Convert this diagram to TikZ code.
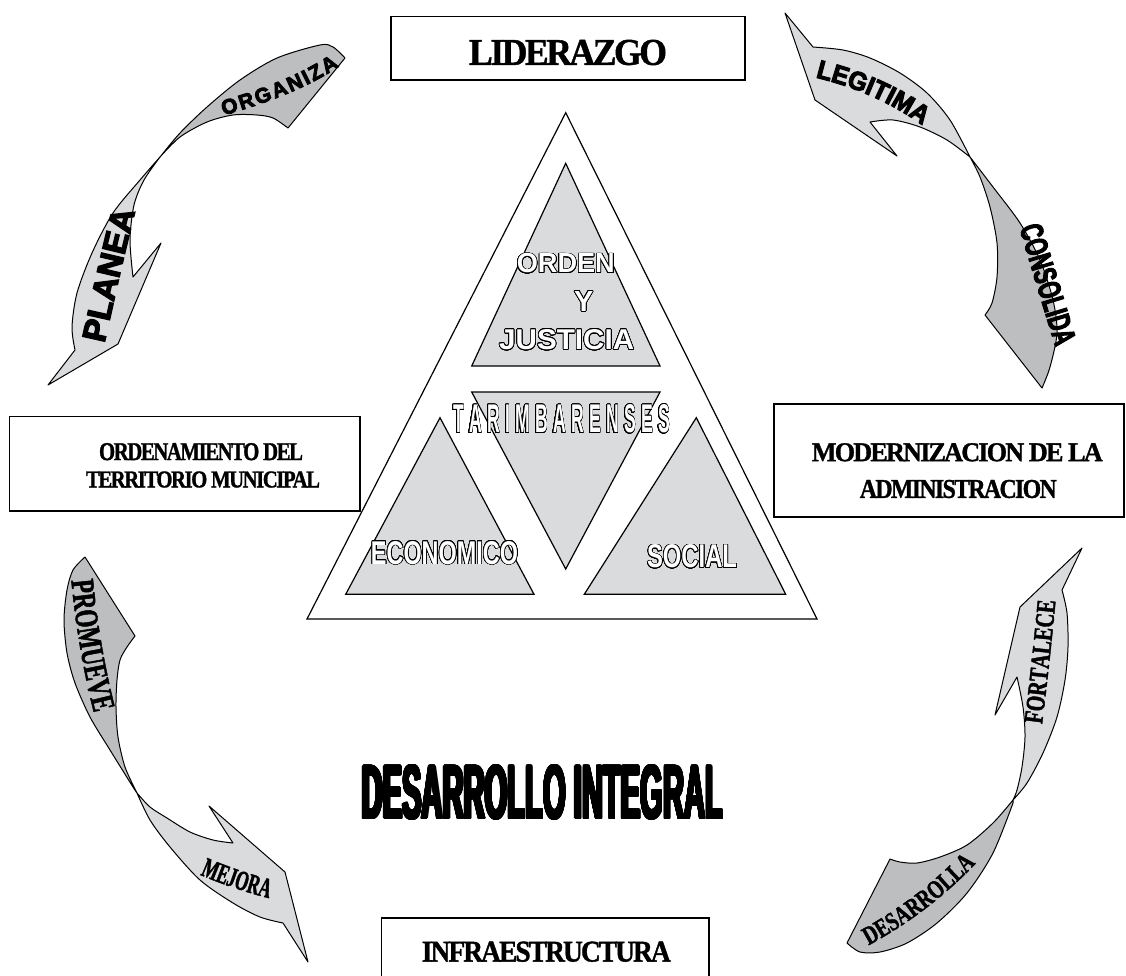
\documentclass[tikz,border=0pt]{standalone}
\usepackage{fontspec}
\setmainfont{Liberation Serif}
\newfontfamily\sansf{Liberation Sans}
\newfontfamily\sansh{Liberation Sans}[FakeBold=4,BoldFeatures={FakeBold=4}]
\newfontfamily\boxf{Liberation Serif}[LetterSpace=-7,FakeBold=1.2]
\newfontfamily\rA{Liberation Sans}[FakeStretch=0.95,FakeBold=4,BoldFeatures={FakeBold=4}]
\newfontfamily\rB{Liberation Sans}[FakeStretch=0.65,FakeBold=3,BoldFeatures={FakeBold=3}]
\newfontfamily\rC{Liberation Serif}[FakeStretch=0.7,FakeBold=1.5,BoldFeatures={FakeBold=1.5}]
\newfontfamily\rD{Liberation Serif}[FakeStretch=0.6,FakeBold=1.5,BoldFeatures={FakeBold=1.5}]
\newfontfamily\rE{Liberation Serif}[FakeStretch=0.74,FakeBold=1.5,BoldFeatures={FakeBold=1.5}]
\newfontfamily\rF{Liberation Serif}[FakeStretch=0.75,FakeBold=1.5,BoldFeatures={FakeBold=1.5}]
\usepackage{graphicx}
\usepackage{contour}
\contournumber{32}
\contourlength{0.7pt}
\usetikzlibrary{decorations.text}
\definecolor{ribLight}{RGB}{218,219,221}
\definecolor{ribDark}{RGB}{189,190,192}
\definecolor{triFill}{RGB}{218,219,221}
\newcommand\fitsf[3]{\resizebox{#1}{#2}{\sansf\bfseries #3}}
\newcommand\fitrm[3]{\resizebox{#1}{#2}{\boxf\bfseries #3}}
\newcommand\outl[3]{\textcolor{white}{\contour{black}{\fitsf{#1}{#2}{#3}}}}
\begin{document}
\begin{tikzpicture}[x=1pt,y=-1pt,
  rib/.style={draw=black,line width=1pt,line join=round},
  ribL/.style={rib,fill=ribLight},
  ribD/.style={rib,fill=ribDark},
  lbl/.style={inner sep=0pt,outer sep=0pt},
  boxr/.style={draw=black,line width=1.3pt},
  tri/.style={draw=black,line width=1.2pt,line join=miter},
  ribtext/.style={decorate,decoration={text along path,text align=center,text={#1}}}
]
\useasboundingbox (0,0) rectangle (1126,975);
\fill[white] (0,0) rectangle (1126,975);

% ---------- boxes ----------
\draw[boxr] (391,16.7) rectangle (745,80);
\node[lbl] (lid) at (568,52.5) {\fitrm{198pt}{25pt}{LIDERAZGO}};

\draw[boxr] (9.3,416.7) rectangle (360,511);
\node[lbl] (ord1) at (201,451.7) {\fitrm{204pt}{17pt}{ORDENAMIENTO DEL}};
\node[lbl] (ord2) at (203,479.5) {\fitrm{234pt}{16pt}{TERRITORIO MUNICIPAL}};

\draw[boxr] (774,404) rectangle (1124,517);
\node[lbl] (mod1) at (957.3,452.3) {\fitrm{291pt}{18pt}{MODERNIZACION DE LA}};
\node[lbl] (mod2) at (958.3,489) {\fitrm{197pt}{18pt}{ADMINISTRACION}};

\draw[boxr] (381.7,918) rectangle (709,995);
\node[lbl] (inf) at (546.3,951.7) {\fitrm{249pt}{20pt}{INFRAESTRUCTURA}};

% ---------- triangles ----------
\draw[tri,fill=white] (565.7,112.7) -- (307,619) -- (817,619) -- cycle;
\draw[tri,fill=triFill] (565.7,163.3) -- (471.7,366) -- (660,366) -- cycle;
\draw[tri,fill=triFill] (471.7,392) -- (660,392) -- (565.7,569) -- cycle;
\draw[tri,fill=triFill] (440,417.7) -- (345.7,594.3) -- (534,594.3) -- cycle;
\draw[tri,fill=triFill] (696.3,417.7) -- (584.3,594.3) -- (785.7,594.3) -- cycle;

\node[lbl] (orden) at (565.8,263.7) {\outl{98pt}{19.3pt}{ORDEN}};
\node[lbl] (y) at (583.7,301.7) {\outl{19.3pt}{20pt}{Y}};
\node[lbl] (just) at (566.7,340) {\outl{135pt}{20pt}{JUSTICIA}};
\node[lbl] (tar) at (561.5,419.2) {\outl{217pt}{28pt}{T\kern3pt A\kern3pt R\kern3pt I\kern3pt M\kern3pt B\kern3pt A\kern3pt R\kern3pt E\kern3pt N\kern3pt S\kern3pt E\kern3pt S}};
\node[lbl] (eco) at (444.5,553.3) {\outl{147pt}{23pt}{ECONOMICO}};
\node[lbl] (soc) at (692,556.7) {\outl{90pt}{23pt}{SOCIAL}};

\node[lbl] (des) at (542.5,793) {{\contourlength{1.1pt}\contour{black}{\fitsf{361pt}{53pt}{DESARROLLO INTEGRAL}}}};

% ---------- top-left ribbon ----------
\filldraw[ribL] plot[smooth] coordinates {(160,157) (140,180) (113,213) (92,253) (77,293) (72,327) (75,350)}
  -- (48,385) -- (118,344) -- (161,243) -- (133,277)
  -- plot[smooth] coordinates {(133,277) (130,240) (134,205) (144,180) (160,157)} -- cycle;
\filldraw[ribD] plot[smooth] coordinates {(160,157) (180,133) (207,107) (240,80) (277,58) (320,45) (333,47) (345,58)}
  -- (288,128)
  -- plot[smooth] coordinates {(288,128) (273,118) (257,115) (233,115) (207,122) (180,137) (160,157)} -- cycle;
\path[ribtext={|\sansh\bfseries\fontsize{21}{21}\selectfont|O{\kern2pt}R{\kern2pt}G{\kern2pt}A{\kern2pt}N{\kern2pt}I{\kern2pt}Z{\kern2pt}A}] (205,121) .. controls (260,105) and (310,90) .. (355,55);
\path[ribtext={|\sansh\bfseries\fontsize{33}{33}\selectfont|PLANEA}] (100,362) .. controls (110,320) and (122,260) .. (140,193);

% ---------- top-right ribbon ----------
\filldraw[ribL] (785,13) -- (813,47)
  -- plot[smooth] coordinates {(813,47) (843,50) (870,58) (900,73) (927,93) (950,120) (970,157)}
  -- plot[smooth] coordinates {(970,157) (947,140) (920,127) (893,120) (870,122)}
  -- (897,156) -- (815,100) -- cycle;
\filldraw[ribD] plot[smooth] coordinates {(970,157) (993,187) (1020,223) (1040,260) (1053,300) (1057,333) (1050,367) (1042,388)}
  -- (985,315)
  -- plot[smooth] coordinates {(985,315) (992,303) (997,277) (997,243) (990,207) (980,177) (970,157)} -- cycle;
\path[ribtext={|\rA\bfseries\fontsize{26}{26}\selectfont|LEGITIMA}] (800,74) .. controls (840,82) and (890,98) .. (935,135);
\path[ribtext={|\rB\bfseries\fontsize{32}{32}\selectfont|CONSOLIDA}] (1014,210) .. controls (1026,250) and (1041,300) .. (1061,365);

% ---------- bottom-left ribbon ----------
\filldraw[ribD] (85,557)
  -- plot[smooth] coordinates {(85,557) (73,570) (67,590) (64,620) (67,653) (75,683) (90,717) (110,750) (133,787) (137,793)}
  -- plot[smooth] coordinates {(137,793) (125,767) (118,737) (116,707) (117,680) (120,660) (127,647) (135,636)}
  -- cycle;
\filldraw[ribL] plot[smooth] coordinates {(137,793) (150,820) (170,847) (200,880) (233,903) (260,917) (283,923)}
  -- (308,962) -- (285,872) -- (209,806) -- (233,843)
  -- plot[smooth] coordinates {(233,843) (213,840) (190,832) (167,818) (150,807) (137,793)} -- cycle;
\path[ribtext={|\rC\bfseries\fontsize{33}{33}\selectfont|PROMUEVE}] (70,565) .. controls (74,615) and (82,670) .. (98,728);
\path[ribtext={|\rD\bfseries\fontsize{28}{28}\selectfont|MEJORA}] (185,868) .. controls (215,882) and (245,893) .. (285,902);

% ---------- bottom-right ribbon ----------
\filldraw[ribL] (1082,548) -- (1062,590)
  -- plot[smooth] coordinates {(1062,590) (1067,613) (1068,647) (1065,680) (1057,717) (1043,753) (1027,783) (1013,800)}
  -- plot[smooth] coordinates {(1013,800) (1017,790) (1022,767) (1025,737) (1023,707) (1017,677)}
  -- (995,715) -- (1020,607) -- cycle;
\filldraw[ribD] plot[smooth] coordinates {(1013,800) (993,823) (967,845) (940,857) (917,863) (900,862) (890,859)}
  -- (847,943)
  -- plot[smooth] coordinates {(847,943) (860,952) (880,952) (907,943) (937,923) (967,893) (993,853) (1013,803)} -- cycle;
\path[ribtext={|\rE\bfseries\fontsize{27}{27}\selectfont|FORTALECE}] (1040,740) .. controls (1046,695) and (1052,640) .. (1057,585);
\path[ribtext={|\rF\bfseries\fontsize{26}{26}\selectfont|DESARROLLA}] (850,955) .. controls (890,935) and (940,905) .. (990,848);
\end{tikzpicture}
\end{document}
